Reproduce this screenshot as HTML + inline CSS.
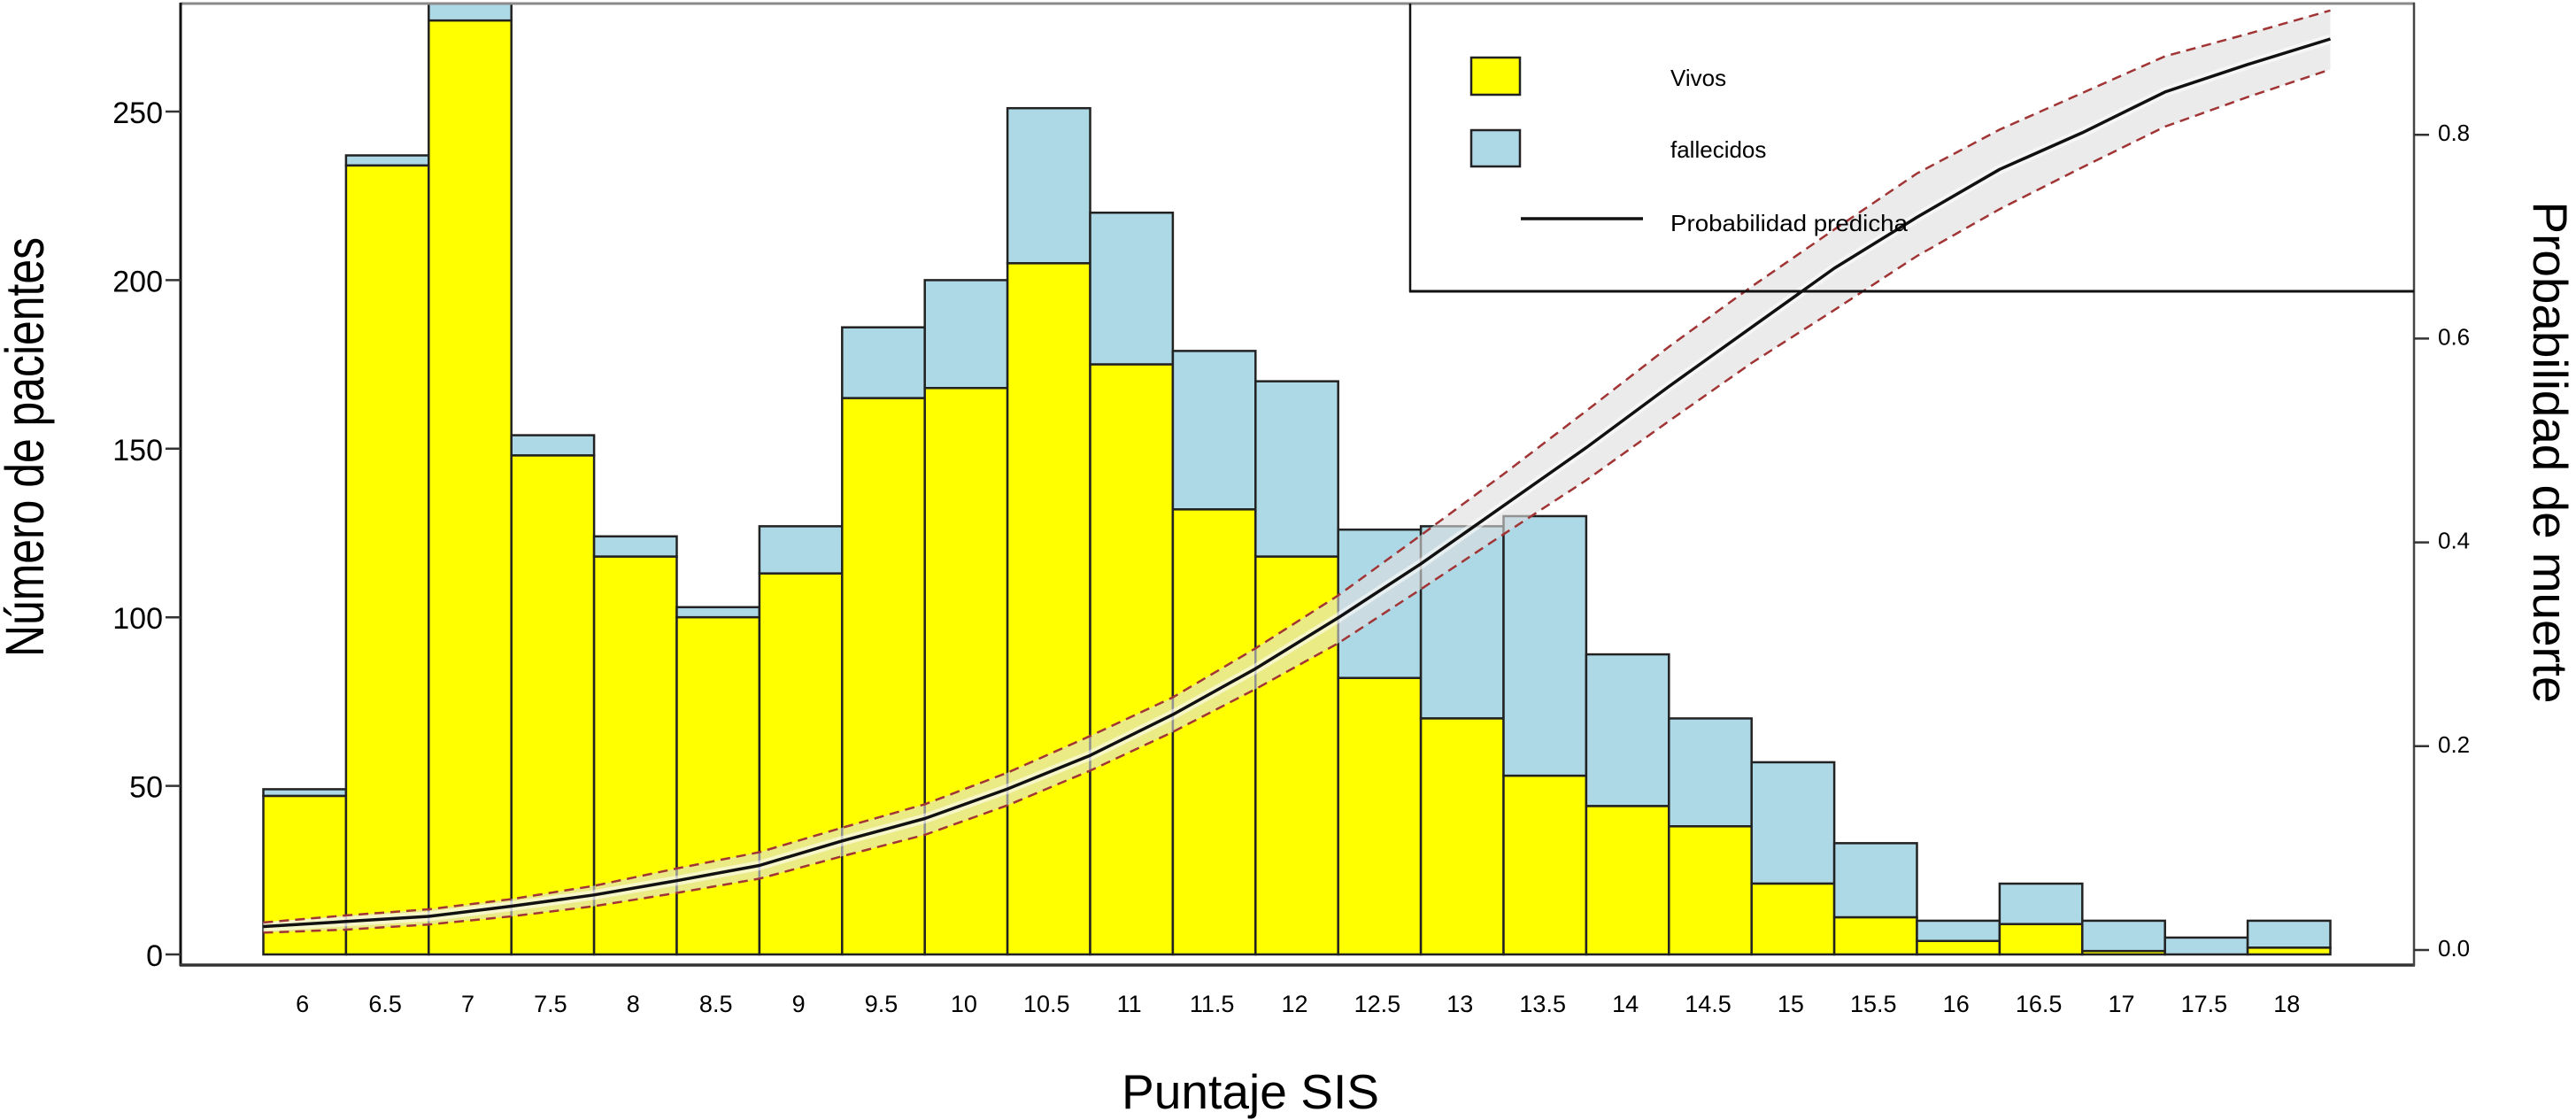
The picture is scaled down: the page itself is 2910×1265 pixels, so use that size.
<!DOCTYPE html>
<html lang="es">
<head>
<meta charset="utf-8">
<title>Número de pacientes y probabilidad de muerte por puntaje SIS</title>
<style>
  html, body { margin: 0; padding: 0; background: #fff; }
  svg { display: block; font-family: "Liberation Sans", Arial, sans-serif; fill: #000; }
</style>
</head>
<body>
<svg id="chart" xmlns="http://www.w3.org/2000/svg" width="2910" height="1265" viewBox="0 0 2910 1265">
  <defs>
    <clipPath id="plot-clip"><rect x="204" y="4" width="2523" height="1086"/></clipPath>
  </defs>
  <rect x="0" y="0" width="2910" height="1265" fill="#fff"/>
  <g id="bars" clip-path="url(#plot-clip)"></g>
  <g id="curve"></g>

  <g fill="none">
    <line x1="204" y1="4" x2="2728" y2="4" stroke="#8a8a8a" stroke-width="3"/>
    <line x1="204" y1="3" x2="204" y2="1091" stroke="#111" stroke-width="3"/>
    <line x1="203" y1="1090" x2="2728" y2="1090" stroke="#333" stroke-width="3.5"/>
    <line x1="2727" y1="3" x2="2727" y2="1091" stroke="#444" stroke-width="2.5"/>
  </g>

  <g id="y-left-ticks"></g>
  <g id="y-right-ticks"></g>
  <g id="x-ticks"></g>

  <g>
    <line x1="1593" y1="4" x2="1593" y2="330" stroke="#111" stroke-width="2.5"/>
    <line x1="1592" y1="329" x2="2727" y2="329" stroke="#111" stroke-width="3"/>
    <rect x="1662" y="65" width="55" height="42" fill="#ffff00" stroke="#222" stroke-width="2.5"/>
    <rect x="1662" y="147" width="55" height="41" fill="#add8e6" stroke="#222" stroke-width="2.5"/>
    <line x1="1718" y1="247" x2="1856" y2="247" stroke="#111" stroke-width="3.5"/>
    <text x="1887" y="97" font-size="26">Vivos</text>
    <text x="1887" y="178" font-size="26">fallecidos</text>
    <text x="1887" y="261" font-size="26" textLength="268" lengthAdjust="spacingAndGlyphs">Probabilidad predicha</text>
  </g>

  <text transform="translate(49,505) rotate(-90) scale(1,1.22)" text-anchor="middle" font-size="50" textLength="474" lengthAdjust="spacingAndGlyphs">Número de pacientes</text>
  <text transform="translate(2862,511) rotate(90)" text-anchor="middle" font-size="55" textLength="567" lengthAdjust="spacingAndGlyphs">Probabilidad de muerte</text>
  <text x="1267" y="1252" font-size="55" textLength="291" lengthAdjust="spacingAndGlyphs">Puntaje SIS</text>
</svg>

<script>
// Chart data
const sisCategories = ["6","6.5","7","7.5","8","8.5","9","9.5","10","10.5","11","11.5","12","12.5","13","13.5","14","14.5","15","15.5","16","16.5","17","17.5","18"];
const vivos = [47,234,277,148,118,100,113,165,168,205,175,132,118,82,70,53,44,38,21,11,4,9,1,0,2];
const fallecidos = [2,3,5,6,6,3,14,21,32,46,45,47,52,44,57,77,45,32,36,22,6,12,9,5,8];
const curveSis = [5.75,6.25,6.75,7.25,7.75,8.25,8.75,9.25,9.75,10.25,10.75,11.25,11.75,12.25,12.75,13.25,13.75,14.25,14.75,15.25,15.75,16.25,16.75,17.25,17.75,18.25];
const probPredicha = [.023,.028,.033,.043,.054,.068,.083,.107,.129,.158,.191,.231,.276,.326,.379,.436,.493,.553,.611,.669,.719,.766,.802,.842,.869,.894];
const probSuperior = [.027,.034,.040,.050,.063,.080,.096,.120,.143,.174,.210,.248,.296,.348,.407,.467,.529,.592,.651,.707,.762,.805,.841,.877,.899,.922];
const probInferior = [.017,.020,.025,.033,.043,.056,.070,.092,.113,.142,.176,.214,.256,.301,.354,.408,.461,.519,.576,.628,.681,.727,.768,.808,.837,.864];
const countTicks = [0,50,100,150,200,250];
const probTicks = [0,0.2,0.4,0.6,0.8];

// Axis functions
function xScale(sis) { return 344.2 + (sis - 6) * 186.8; }
function yCount(v) { return 1078 - v * 3.808; }
function yProb(p) { return 1073 - p * 1151; }
const barWidth = 93.4;
const NS = "http://www.w3.org/2000/svg";

function make(tag, attrs, parent) {
  const el = document.createElementNS(NS, tag);
  for (const k in attrs) el.setAttribute(k, attrs[k]);
  parent.appendChild(el);
  return el;
}

// Bars
const barsGroup = document.getElementById("bars");
sisCategories.forEach(function (cat, i) {
  const left = xScale(parseFloat(cat)) - barWidth / 2;
  const total = vivos[i] + fallecidos[i];
  const blue = make("rect", {x: left, y: yCount(total), width: barWidth, height: yCount(vivos[i]) - yCount(total), fill: "#add8e6", stroke: "#222", "stroke-width": 2.5}, barsGroup);
  
  
  const yellow = make("rect", {x: left, y: yCount(vivos[i]), width: barWidth, height: yCount(0) - yCount(vivos[i]), fill: "#ffff00", stroke: "#222", "stroke-width": 2.5}, barsGroup);
  
  
});

// Curve with confidence band
const curveGroup = document.getElementById("curve");
function pathFrom(values) {
  return values.map(function (p, i) {
    return (i ? "L" : "M") + xScale(curveSis[i]).toFixed(1) + " " + yProb(p).toFixed(1);
  }).join(" ");
}
const lowerReversed = probInferior.map(function (p, i) {
  return "L" + xScale(curveSis[i]).toFixed(1) + " " + yProb(p).toFixed(1);
}).reverse().join(" ");
const band = make("path", {d: pathFrom(probSuperior) + " " + lowerReversed + " Z", fill: "rgb(222,222,222)", "fill-opacity": 0.6, stroke: "none"}, curveGroup);


const halo = make("path", {d: pathFrom(probPredicha), fill: "none", stroke: "#fff", "stroke-opacity": 0.55, "stroke-width": 11}, curveGroup);


const upperLine = make("path", {d: pathFrom(probSuperior), fill: "none", stroke: "#a13434", "stroke-width": 2.5, "stroke-dasharray": "11 7"}, curveGroup);


const lowerLine = make("path", {d: pathFrom(probInferior), fill: "none", stroke: "#a13434", "stroke-width": 2.5, "stroke-dasharray": "11 7"}, curveGroup);


const mainLine = make("path", {d: pathFrom(probPredicha), fill: "none", stroke: "#111", "stroke-width": 3.5, "stroke-linejoin": "round"}, curveGroup);



// Left axis
const leftTicks = document.getElementById("y-left-ticks");
countTicks.forEach(function (v) {
  const tick = make("line", {x1: 187, x2: 204, y1: yCount(v), y2: yCount(v), stroke: "#333", "stroke-width": 2.5}, leftTicks);
  
  
  const label = make("text", {x: 184, y: yCount(v) + 13, "text-anchor": "end", "font-size": 34}, leftTicks);
  
  
  label.textContent = String(v);
});

// Right axis
const rightTicks = document.getElementById("y-right-ticks");
probTicks.forEach(function (p) {
  const tick = make("line", {x1: 2727, x2: 2744, y1: yProb(p), y2: yProb(p), stroke: "#333", "stroke-width": 2.5}, rightTicks);
  
  
  const label = make("text", {x: 2754, y: yProb(p) + 7, "font-size": 26}, rightTicks);
  
  
  label.textContent = p.toFixed(1);
});

// X axis labels
const xTicks = document.getElementById("x-ticks");
sisCategories.forEach(function (cat) {
  const label = make("text", {x: xScale(parseFloat(cat)) - 2.5, y: 1143, "text-anchor": "middle", "font-size": 27}, xTicks);
  
  
  label.textContent = cat;
});
</script>
</body>
</html>
